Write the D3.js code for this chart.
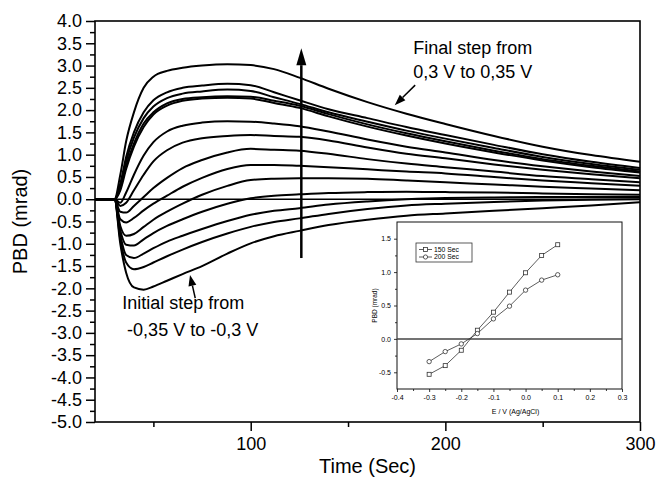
<!DOCTYPE html>
<html><head><meta charset="utf-8">
<script src="https://cdnjs.cloudflare.com/ajax/libs/d3/7.8.5/d3.min.js"></script>
<style>
body{margin:0;background:#fff}
svg{display:block}
text{font-family:"Liberation Sans",Arial,Helvetica,sans-serif;fill:#000}
</style>
</head><body>
<svg id="chart" width="658" height="479"></svg>
<script>
// ---------------- DATA ----------------
const times = [20,30,33,36,40,45,50,57,65,75,88,100,112,125,140,160,180,200,225,250,275,300];
const c1  = [0,0,-1.00,-1.65,-1.98,-2.03,-1.96,-1.83,-1.68,-1.50,-1.22,-0.99,-0.83,-0.71,-0.58,-0.46,-0.37,-0.32,-0.26,-0.20,-0.14,-0.07];
const c2  = [0,0,-0.90,-1.42,-1.57,-1.52,-1.42,-1.28,-1.13,-0.96,-0.77,-0.62,-0.51,-0.43,-0.33,-0.22,-0.14,-0.10,-0.06,-0.03,-0.01,0.00];
const c3  = [0,0,-0.80,-1.25,-1.32,-1.22,-1.10,-0.95,-0.82,-0.67,-0.49,-0.35,-0.26,-0.20,-0.12,-0.05,0.00,0.03,0.04,0.05,0.05,0.05];
const c4  = [0,0,-0.70,-1.02,-1.04,-0.90,-0.76,-0.60,-0.45,-0.28,-0.10,0.02,0.08,0.11,0.14,0.16,0.17,0.16,0.15,0.13,0.11,0.10];
const c5  = [0,0,-0.60,-0.82,-0.78,-0.62,-0.46,-0.28,-0.10,0.10,0.30,0.43,0.46,0.47,0.47,0.46,0.42,0.38,0.33,0.28,0.24,0.20];
const c6  = [0,0,-0.45,-0.52,-0.42,-0.25,-0.10,0.08,0.28,0.48,0.68,0.77,0.77,0.75,0.72,0.67,0.62,0.58,0.50,0.42,0.36,0.30];
const c7  = [0,0,-0.28,-0.30,-0.15,0.05,0.25,0.48,0.70,0.88,1.05,1.13,1.11,1.09,1.02,0.90,0.80,0.72,0.62,0.52,0.45,0.38];
const c8  = [0,0,-0.15,-0.08,0.20,0.55,0.85,1.10,1.27,1.37,1.42,1.44,1.42,1.40,1.32,1.16,1.02,0.92,0.78,0.66,0.56,0.47];
const c9  = [0,0,-0.08,0.15,0.55,0.98,1.28,1.52,1.65,1.72,1.75,1.74,1.70,1.64,1.52,1.34,1.18,1.05,0.88,0.74,0.62,0.52];
const c10 = [0,0,0.20,0.68,1.18,1.62,1.90,2.10,2.21,2.26,2.28,2.26,2.16,2.05,1.86,1.63,1.43,1.25,1.05,0.87,0.72,0.60];
const c11 = [0,0,0.25,0.75,1.25,1.70,1.95,2.15,2.25,2.29,2.31,2.30,2.21,2.10,1.91,1.68,1.48,1.30,1.09,0.90,0.75,0.62];
const c12 = [0,0,0.30,0.85,1.38,1.82,2.08,2.27,2.37,2.42,2.46,2.43,2.29,2.14,1.95,1.74,1.54,1.36,1.15,0.95,0.79,0.66];
const c13 = [0,0,0.35,0.95,1.50,1.95,2.22,2.40,2.50,2.55,2.59,2.56,2.40,2.22,2.02,1.82,1.62,1.44,1.22,1.01,0.84,0.70];
const c14 = [0,0,0.55,1.30,1.95,2.50,2.75,2.88,2.95,3.00,3.03,3.01,2.92,2.73,2.48,2.18,1.92,1.69,1.42,1.18,0.99,0.84];
const series = [c1,c2,c3,c4,c5,c6,c7,c8,c9,c10,c11,c12,c13,c14];

const yTickValues = [-5.0,-4.5,-4.0,-3.5,-3.0,-2.5,-2.0,-1.5,-1.0,-0.5,0.0,0.5,1.0,1.5,2.0,2.5,3.0,3.5,4.0];
const yMinorTicks = [-4.75,-4.25,-3.75,-3.25,-2.75,-2.25,-1.75,-1.25,-0.75,-0.25,0.25,0.75,1.25,1.75,2.25,2.75,3.25,3.75];
const xTickValues = [100,200,300];
const xMinorTicks = [50,150,250];

// inset data
const insetE   = [-0.30,-0.25,-0.20,-0.15,-0.10,-0.05,0.00,0.05,0.10];
const pbd150   = [-0.53,-0.40,-0.17,0.13,0.40,0.70,0.99,1.25,1.41];
const pbd200   = [-0.34,-0.19,-0.075,0.08,0.30,0.49,0.73,0.88,0.96];
const insetXTicks = [-0.4,-0.3,-0.2,-0.1,0.0,0.1,0.2,0.3];
const insetXMinor = [-0.35,-0.25,-0.15,-0.05,0.05,0.15,0.25];
const insetYTicks = [-0.5,0.0,0.5,1.0,1.5];
const insetYMinor = [-0.25,0.25,0.75,1.25];
const legendLabels = ["150 Sec","200 Sec"];

// ---------------- CHART ----------------
const svg = d3.select("#chart");
const L = 95, R = 640, T = 21, B = 422;
const x = d3.scaleLinear().domain([20,300]).range([L,R]);
const y = d3.scaleLinear().domain([-5,4]).range([B,T]);
const fmt = d => d.toFixed(1);

// axes
const ya = svg.append("g").attr("transform",`translate(${L},0)`)
  .call(d3.axisLeft(y).tickValues(yTickValues).tickFormat(fmt).tickSize(9).tickSizeOuter(0).tickPadding(4));
const yam = svg.append("g").attr("transform",`translate(${L},0)`)
  .call(d3.axisLeft(y).tickValues(yMinorTicks).tickFormat("").tickSize(5).tickSizeOuter(0));
const xa = svg.append("g").attr("transform",`translate(0,${B})`)
  .call(d3.axisBottom(x).tickValues(xTickValues).tickFormat(d3.format("d")).tickSize(9).tickSizeOuter(0).tickPadding(6));
const xam = svg.append("g").attr("transform",`translate(0,${B})`)
  .call(d3.axisBottom(x).tickValues(xMinorTicks).tickFormat("").tickSize(5).tickSizeOuter(0));
[ya,yam,xa,xam].forEach(g=>{
  g.select(".domain").remove();
  g.selectAll(".tick line").attr("stroke","#000").attr("stroke-width",1.5);
  g.selectAll(".tick text").attr("font-size",18).attr("font-family",'"Liberation Sans",Arial,sans-serif').attr("fill","#000");
});

// frame
svg.append("rect").attr("x",L).attr("y",T).attr("width",R-L).attr("height",B-T)
  .attr("fill","none").attr("stroke","#000").attr("stroke-width",1.6);

// zero line
svg.append("line").attr("x1",x(20)).attr("x2",x(300)).attr("y1",y(0)).attr("y2",y(0))
  .attr("stroke","#000").attr("stroke-width",1.5);

// curves
const line = d3.line().x((d,i)=>x(times[i])).y(d=>y(d)).curve(d3.curveMonotoneX);
svg.append("g").selectAll("path").data(series).join("path")
  .attr("d",line).attr("fill","none").attr("stroke","#000").attr("stroke-width",2);

// axis titles
svg.append("text").attr("x",x(160)).attr("y",473).attr("text-anchor","middle")
  .attr("font-size",20).text("Time (Sec)");
svg.append("text").attr("transform",`translate(27,${(T+B)/2}) rotate(-90)`).attr("text-anchor","middle")
  .attr("font-size",20).text("PBD (mrad)");

// arrows
function arrow(x1,y1,x2,y2,w,len,hw){
  const ang = Math.atan2(y2-y1,x2-x1);
  const bx = x2 - len*Math.cos(ang), by = y2 - len*Math.sin(ang);
  svg.append("line").attr("x1",x1).attr("y1",y1).attr("x2",bx).attr("y2",by)
    .attr("stroke","#000").attr("stroke-width",w);
  const px = -Math.sin(ang)*hw, py = Math.cos(ang)*hw;
  svg.append("path").attr("d",`M${x2},${y2}L${bx+px},${by+py}L${bx-px},${by-py}Z`).attr("fill","#000");
}
arrow(x(126),y(-1.32),x(126),y(3.39),2.5,17,5);
arrow(x(184.5),y(2.56),x(174),y(2.11),1.5,11,4);
arrow(x(71.5),y(-2.22),x(68.8),y(-1.70),1.5,11,4);

// annotations
svg.append("text").attr("x",x(183.5)).attr("y",y(3.27)).attr("font-size",18).text("Final step from");
svg.append("text").attr("x",x(183.5)).attr("y",y(2.72)).attr("font-size",18).text("0,3 V to 0,35 V");
svg.append("text").attr("x",x(34)).attr("y",y(-2.47)).attr("font-size",18).text("Initial step from");
svg.append("text").attr("x",x(36.5)).attr("y",y(-3.07)).attr("font-size",18).text("-0,35 V to -0,3 V");

// ---------------- INSET ----------------
const iL = 397, iR = 622, iT = 222, iB = 389;
const ix = d3.scaleLinear().domain([-0.4,0.3]).range([iL,iR]);
const iy = d3.scaleLinear().domain([-0.75,1.75]).range([iB,iT]);
const inset = svg.append("g");
inset.append("rect").attr("x",iL).attr("y",iT).attr("width",iR-iL).attr("height",iB-iT)
  .attr("fill","#fff").attr("stroke","none");
const ixa = inset.append("g").attr("transform",`translate(0,${iB})`)
  .call(d3.axisBottom(ix).tickValues(insetXTicks).tickFormat(fmt).tickSize(3).tickSizeOuter(0).tickPadding(3));
const ixm = inset.append("g").attr("transform",`translate(0,${iB})`)
  .call(d3.axisBottom(ix).tickValues(insetXMinor).tickFormat("").tickSize(2).tickSizeOuter(0));
const iya = inset.append("g").attr("transform",`translate(${iL},0)`)
  .call(d3.axisLeft(iy).tickValues(insetYTicks).tickFormat(fmt).tickSize(3).tickSizeOuter(0).tickPadding(3));
const iym = inset.append("g").attr("transform",`translate(${iL},0)`)
  .call(d3.axisLeft(iy).tickValues(insetYMinor).tickFormat("").tickSize(2).tickSizeOuter(0));
[ixa,ixm,iya,iym].forEach(g=>{
  g.select(".domain").remove();
  g.selectAll(".tick line").attr("stroke","#222").attr("stroke-width",0.9);
  g.selectAll(".tick text").attr("font-size",7).attr("font-family",'"Liberation Sans",Arial,sans-serif').attr("fill","#222");
});
inset.append("rect").attr("x",iL).attr("y",iT).attr("width",iR-iL).attr("height",iB-iT)
  .attr("fill","none").attr("stroke","#111").attr("stroke-width",1);
inset.append("line").attr("x1",iL).attr("x2",iR).attr("y1",iy(0)).attr("y2",iy(0))
  .attr("stroke","#444").attr("stroke-width",1.5);

const iline = d3.line().x((d,i)=>ix(insetE[i])).y(d=>iy(d));
inset.append("path").attr("d",iline(pbd150)).attr("fill","none").attr("stroke","#333").attr("stroke-width",0.8);
inset.append("path").attr("d",iline(pbd200)).attr("fill","none").attr("stroke","#333").attr("stroke-width",0.8);
inset.append("g").selectAll("rect").data(pbd150).join("rect")
  .attr("x",(d,i)=>ix(insetE[i])-2).attr("y",d=>iy(d)-2).attr("width",4).attr("height",4)
  .attr("fill","#fff").attr("stroke","#333").attr("stroke-width",0.8);
inset.append("g").selectAll("circle").data(pbd200).join("circle")
  .attr("cx",(d,i)=>ix(insetE[i])).attr("cy",d=>iy(d)).attr("r",2.2)
  .attr("fill","#fff").attr("stroke","#333").attr("stroke-width",0.8);

inset.append("text").attr("x",(iL+iR)/2+6).attr("y",414).attr("text-anchor","middle")
  .attr("font-size",7).attr("fill","#222").text("E / V (Ag/AgCl)");
inset.append("text").attr("transform",`translate(377,${(iT+iB)/2}) rotate(-90)`).attr("text-anchor","middle")
  .attr("font-size",6.5).attr("fill","#222").text("PBD (mrad)");

// legend
const lg = inset.append("g");
lg.append("rect").attr("x",416).attr("y",243).attr("width",56).attr("height",19)
  .attr("fill","none").attr("stroke","#333").attr("stroke-width",0.8);
legendLabels.forEach((lab,i)=>{
  const yy = 249.5 + i*7.5;
  lg.append("line").attr("x1",419).attr("x2",432).attr("y1",yy).attr("y2",yy).attr("stroke","#333").attr("stroke-width",0.8);
  if(i===0) lg.append("rect").attr("x",423.5).attr("y",yy-2).attr("width",4).attr("height",4).attr("fill","#fff").attr("stroke","#333").attr("stroke-width",0.8);
  else lg.append("circle").attr("cx",425.5).attr("cy",yy).attr("r",2.1).attr("fill","#fff").attr("stroke","#333").attr("stroke-width",0.8);
  lg.append("text").attr("x",434).attr("y",yy+2.4).attr("font-size",6.8).attr("fill","#222").text(lab);
});
</script>
</body></html>
